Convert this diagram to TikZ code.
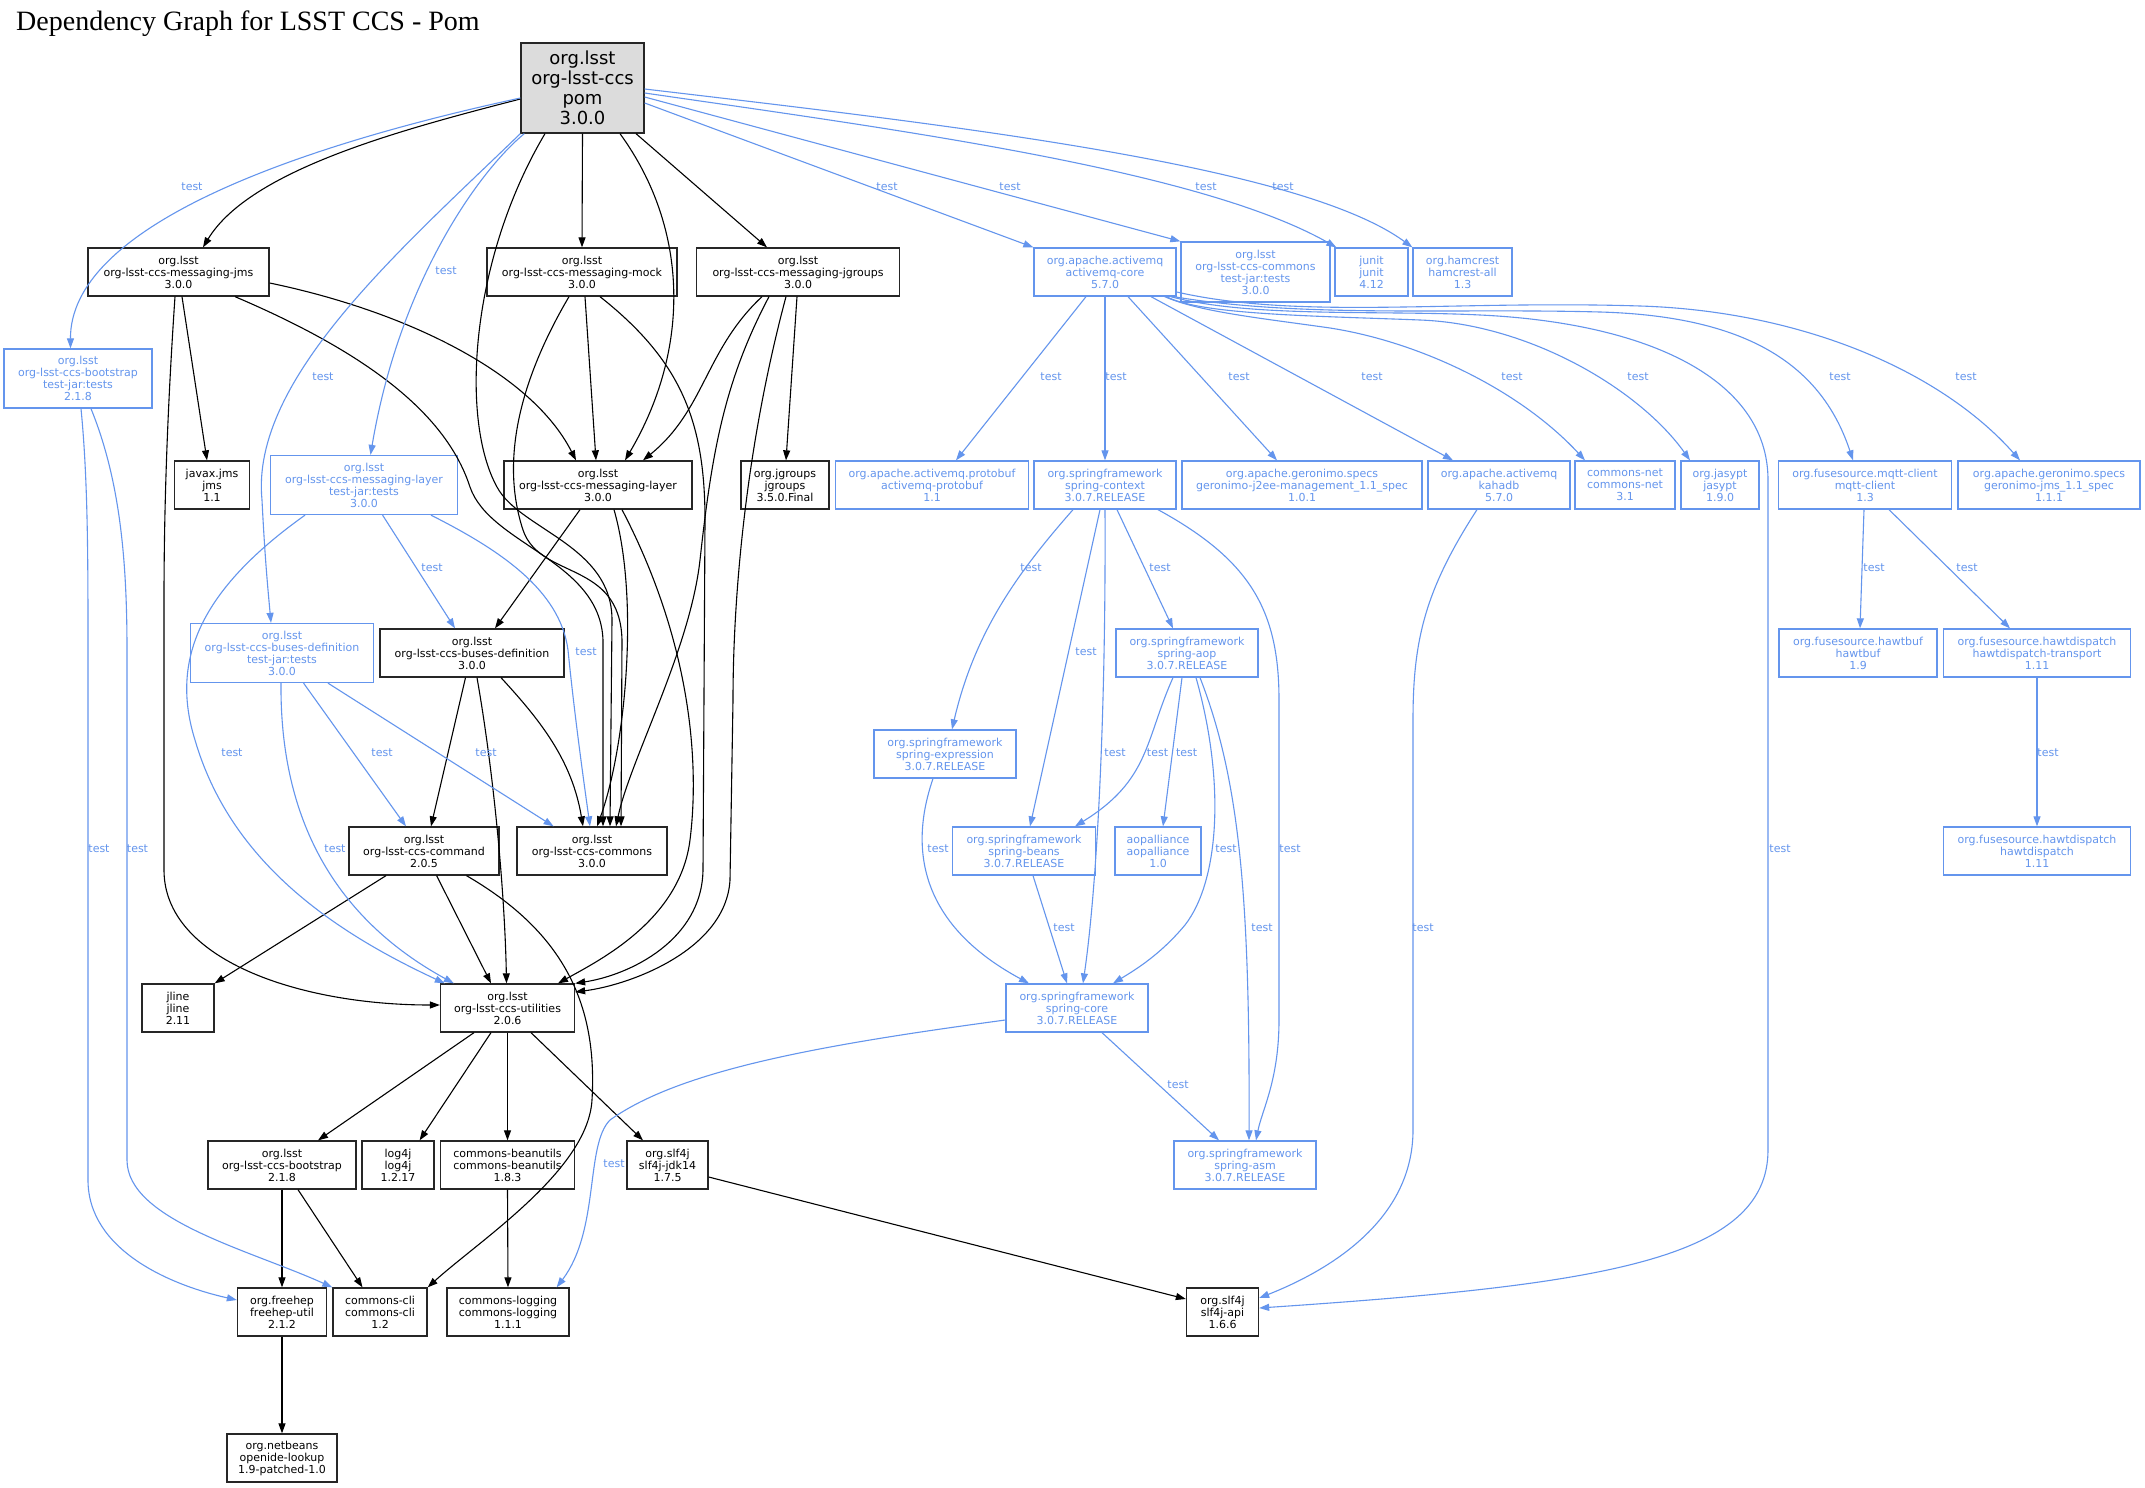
\documentclass[tikz,border=0pt]{standalone}
\usepackage{fontspec}
\setmainfont{DejaVu Sans}
\newfontfamily\titlefont{Liberation Serif}
\usetikzlibrary{arrows.meta,calc}
\definecolor{tblue}{HTML}{6495ED}
\definecolor{rootgray}{HTML}{DCDCDC}
\tikzset{
  box/.style={draw, line width=1.3pt, inner sep=0pt, align=center, font=\fontsize{11}{12}\selectfont},
  bk/.style={box, draw=black!85, text=black},
  bl/.style={box, draw=tblue, text=tblue},
  sz/.style 2 args={minimum width=#1, minimum height=#2},
  e/.style={line width=1.1pt, -{Triangle[length=10pt,width=7pt]}},
  eb/.style={e, color=tblue},
  lbl/.style={text=tblue, inner sep=0pt, font=\fontsize{11}{12}\selectfont}
}
\begin{document}
\begin{tikzpicture}[x=1pt,y=-1pt]
\fill[white] (0,0) rectangle (2145,1488);
\useasboundingbox (0,0) rectangle (2145,1488);
\node[anchor=base west, inner sep=0pt, font=\titlefont\fontsize{28}{30}\selectfont] (title) at (16,31) {Dependency Graph for LSST CCS - Pom};

% ---- nodes ----
\node[bk, fill=rootgray, sz={123}{90}, font=\fontsize{18}{20}\selectfont] (root) at (582.5,88) {org.lsst\\org-lsst-ccs\\pom\\3.0.0};
\node[bk, sz={181}{48}] (jms) at (178.5,272) {org.lsst\\org-lsst-ccs-messaging-jms\\3.0.0};
\node[bk, sz={190}{48}] (mock) at (582,272) {org.lsst\\org-lsst-ccs-messaging-mock\\3.0.0};
\node[bk, sz={203}{48}] (jgroups) at (798,272) {org.lsst\\org-lsst-ccs-messaging-jgroups\\3.0.0};
\node[bl, sz={142}{48}] (amq) at (1105,272) {org.apache.activemq\\activemq-core\\5.7.0};
\node[bl, sz={149}{60}] (ctest) at (1255.5,272) {org.lsst\\org-lsst-ccs-commons\\test-jar:tests\\3.0.0};
\node[bl, sz={73}{48}] (junit) at (1371.5,272) {junit\\junit\\4.12};
\node[bl, sz={99}{48}] (hamcrest) at (1462.5,272) {org.hamcrest\\hamcrest-all\\1.3};
\node[bl, sz={148}{59}] (bttest) at (78,378.5) {org.lsst\\org-lsst-ccs-bootstrap\\test-jar:tests\\2.1.8};
\node[bk, sz={75}{48}] (javaxjms) at (212,485) {javax.jms\\jms\\1.1};
\node[bl, sz={187}{59}] (mltest) at (364,485) {org.lsst\\org-lsst-ccs-messaging-layer\\test-jar:tests\\3.0.0};
\node[bk, sz={188}{48}] (ml) at (598,485) {org.lsst\\org-lsst-ccs-messaging-layer\\3.0.0};
\node[bk, sz={88}{48}] (jglib) at (785,485) {org.jgroups\\jgroups\\3.5.0.Final};
\node[bl, sz={193}{48}] (protobuf) at (932,485) {org.apache.activemq.protobuf\\activemq-protobuf\\1.1};
\node[bl, sz={142}{48}] (sctx) at (1105,485) {org.springframework\\spring-context\\3.0.7.RELEASE};
\node[bl, sz={240}{48}] (j2ee) at (1302,485) {org.apache.geronimo.specs\\geronimo-j2ee-management\_1.1\_spec\\1.0.1};
\node[bl, sz={142}{48}] (kahadb) at (1499,485) {org.apache.activemq\\kahadb\\5.7.0};
\node[bl, sz={100}{48}] (cnet) at (1625,485) {commons-net\\commons-net\\3.1};
\node[bl, sz={78}{48}] (jasypt) at (1720,485) {org.jasypt\\jasypt\\1.9.0};
\node[bl, sz={173}{48}] (mqtt) at (1865,485) {org.fusesource.mqtt-client\\mqtt-client\\1.3};
\node[bl, sz={182}{48}] (gjms) at (2049,485) {org.apache.geronimo.specs\\geronimo-jms\_1.1\_spec\\1.1.1};
\node[bl, sz={183}{59}] (bdtest) at (282,653) {org.lsst\\org-lsst-ccs-buses-definition\\test-jar:tests\\3.0.0};
\node[bk, sz={184}{48}] (bd) at (472,653) {org.lsst\\org-lsst-ccs-buses-definition\\3.0.0};
\node[bl, sz={142}{48}] (aop) at (1187,653) {org.springframework\\spring-aop\\3.0.7.RELEASE};
\node[bl, sz={158}{48}] (hawtbuf) at (1858,653) {org.fusesource.hawtbuf\\hawtbuf\\1.9};
\node[bl, sz={187}{48}] (transport) at (2037,653) {org.fusesource.hawtdispatch\\hawtdispatch-transport\\1.11};
\node[bl, sz={142}{48}] (sexpr) at (945,754) {org.springframework\\spring-expression\\3.0.7.RELEASE};
\node[bk, sz={150}{48}] (command) at (424,851) {org.lsst\\org-lsst-ccs-command\\2.0.5};
\node[bk, sz={150}{48}] (commons) at (592,851) {org.lsst\\org-lsst-ccs-commons\\3.0.0};
\node[bl, sz={143}{48}] (sbeans) at (1024,851) {org.springframework\\spring-beans\\3.0.7.RELEASE};
\node[bl, sz={86}{48}] (aopall) at (1158,851) {aopalliance\\aopalliance\\1.0};
\node[bl, sz={187}{48}] (hawtd) at (2037,851) {org.fusesource.hawtdispatch\\hawtdispatch\\1.11};
\node[bk, sz={72}{48}] (jline) at (178,1008) {jline\\jline\\2.11};
\node[bk, sz={134}{48}] (util) at (507.5,1008) {org.lsst\\org-lsst-ccs-utilities\\2.0.6};
\node[bl, sz={142}{48}] (score) at (1077,1008) {org.springframework\\spring-core\\3.0.7.RELEASE};
\node[bk, sz={148}{48}] (bootstrap) at (282,1165) {org.lsst\\org-lsst-ccs-bootstrap\\2.1.8};
\node[bk, sz={72}{48}] (log4j) at (398,1165) {log4j\\log4j\\1.2.17};
\node[bk, sz={134}{48}] (beanutils) at (507.5,1165) {commons-beanutils\\commons-beanutils\\1.8.3};
\node[bk, sz={81}{48}] (jdk14) at (667.5,1165) {org.slf4j\\slf4j-jdk14\\1.7.5};
\node[bl, sz={142}{48}] (sasm) at (1245,1165) {org.springframework\\spring-asm\\3.0.7.RELEASE};
\node[bk, sz={89}{48}] (freehep) at (282,1312) {org.freehep\\freehep-util\\2.1.2};
\node[bk, sz={94}{48}] (cli) at (380,1312) {commons-cli\\commons-cli\\1.2};
\node[bk, sz={122}{48}] (clog) at (508,1312) {commons-logging\\commons-logging\\1.1.1};
\node[bk, sz={72}{48}] (slfapi) at (1222.5,1312) {org.slf4j\\slf4j-api\\1.6.6};
\node[bk, sz={110}{48}] (openide) at (282,1458) {org.netbeans\\openide-lookup\\1.9-patched-1.0};

% ---- black edges ----
\draw[e] ($(root.west)+(0,11)$) .. controls (400,130) and (250,170) .. ($(jms.north)+(24.5,0)$);
\draw[e] (root.south) -- (mock.north);
\draw[e] ($(root.south)+(53.5,0)$) -- ($(jgroups.north)+(-31,0)$);
\draw[e] ($(root.south)+(37.5,0)$) .. controls (690,230) and (690,350) .. ($(ml.north)+(27,0)$);
\draw[e] ($(root.south)+(-37.5,0)$) .. controls (470,260) and (460,420) .. (497,487) .. controls (520,530) and (612,545) .. (612,620) -- ($(commons.north)+(18,0)$);
\draw[e] ($(jms.south)+(3.5,0)$) -- ($(javaxjms.north)+(-5,0)$);
\draw[e] ($(jms.south)+(-3.5,0)$) .. controls (168,400) and (164,500) .. (164,600) -- (164,870) .. controls (164,960) and (300,1005) .. ($(util.west)+(0,-3)$);
\draw[e] ($(jms.south)+(56.5,0)$) .. controls (360,350) and (445,410) .. (470,487) .. controls (490,545) and (600,560) .. (603,640) -- ($(commons.north)+(11,0)$);
\draw[e] ($(jms.east)+(0,11)$) .. controls (400,310) and (530,370) .. ($(ml.north)+(-22,0)$);
\draw[e] ($(mock.south)+(3,0)$) -- ($(ml.north)+(-2,0)$);
\draw[e] ($(mock.south)+(-13,0)$) .. controls (520,380) and (500,460) .. (523,530) .. controls (540,580) and (620,560) .. (622,640) -- ($(commons.north)+(29,0)$);
\draw[e] ($(mock.south)+(18,0)$) .. controls (680,360) and (705,420) .. (705,520) -- (703,870) .. controls (702,940) and (630,975) .. (util.north east);
\draw[e] ($(jgroups.south)+(-1,0)$) -- ($(jglib.north)+(1,0)$);
\draw[e] ($(jgroups.south)+(-36,0)$) .. controls (705,350) and (705,410) .. ($(ml.north)+(45,0)$);
\draw[e] ($(jgroups.south)+(-29,0)$) .. controls (725,380) and (712,450) .. (700,560) .. controls (690,650) and (630,760) .. ($(commons.north)+(24,0)$);
\draw[e] ($(jgroups.south)+(-12,0)$) .. controls (745,450) and (733,600) .. (733,700) -- (730,880) .. controls (726,950) and (630,985) .. ($(util.east)+(0,-16)$);
\draw[e] ($(ml.south)+(-18,0)$) -- ($(bd.north)+(23,0)$);
\draw[e] ($(ml.south)+(16,0)$) .. controls (640,600) and (625,750) .. ($(commons.north)+(5,0)$);
\draw[e] ($(ml.south)+(24,0)$) .. controls (690,640) and (700,760) .. (690,840) .. controls (680,920) and (600,960) .. ($(util.north)+(50.5,0)$);
\draw[e] ($(bd.south)+(-6.5,0)$) -- ($(command.north)+(7,0)$);
\draw[e] ($(bd.south)+(5,0)$) .. controls (495,780) and (505,900) .. ($(util.north)+(-1,0)$);
\draw[e] ($(bd.south)+(29,0)$) .. controls (540,720) and (572,760) .. ($(commons.north)+(-9,0)$);
\draw[e] ($(command.south)+(-38,0)$) -- (jline.north east);
\draw[e] ($(command.south)+(12.6,0)$) -- ($(util.north)+(-16.5,0)$);
\draw[e] ($(command.south)+(42.5,0)$) .. controls (560,930) and (598,1000) .. (592,1100) .. controls (588,1170) and (480,1240) .. (cli.north east);
\draw[e] ($(util.south)+(-33.5,0)$) -- ($(bootstrap.north)+(36,0)$);
\draw[e] ($(util.south)+(-16.5,0)$) -- ($(log4j.north)+(21.6,0)$);
\draw[e] (util.south) -- (beanutils.north);
\draw[e] ($(util.south)+(23.5,0)$) -- ($(jdk14.north)+(-24.5,0)$);
\draw[e] (bootstrap.south) -- (freehep.north);
\draw[e] ($(bootstrap.south)+(16,0)$) -- ($(cli.north)+(-17.5,0)$);
\draw[e] (beanutils.south) -- (clog.north);
\draw[e] (freehep.south) -- (openide.north);
\draw[e] ($(jdk14.east)+(0,12)$) -- ($(slfapi.west)+(0,-13)$);

% ---- blue (test) edges ----
\draw[eb] ($(root.west)+(0,10)$) .. controls (280,150) and (70,230) .. ($(bttest.north)+(-7.5,0)$);
\draw[eb] (root.south west) .. controls (400,250) and (250,380) .. (262,500) .. controls (265,560) and (268,590) .. ($(bdtest.north)+(-11,0)$);
\draw[eb] ($(root.south west)+(4,0)$) .. controls (480,170) and (400,280) .. ($(mltest.north)+(6.5,0)$);
\draw[eb] ($(root.east)+(0,15)$) -- (amq.north west);
\draw[eb] ($(root.east)+(0,9)$) -- (ctest.north west);
\draw[eb] ($(root.east)+(0,5)$) .. controls (900,130) and (1200,170) .. ($(junit.north west)+(2,0)$);
\draw[eb] ($(root.east)+(0,1)$) .. controls (950,125) and (1300,165) .. (hamcrest.north west);
\draw[eb] ($(amq.south)+(-19,0)$) -- ($(protobuf.north)+(24,0)$);
\draw[eb] (amq.south) -- (sctx.north);
\draw[eb] ($(amq.south)+(23,0)$) -- ($(j2ee.north)+(-25,0)$);
\draw[eb] ($(amq.south)+(46,0)$) -- ($(kahadb.north)+(-46,0)$);
\draw[eb] ($(amq.south east)+(-12,0)$) .. controls (1200,312) and (1260,318) .. (1330,328) .. controls (1420,342) and (1520,390) .. ($(cnet.north)+(-40,0)$);
\draw[eb] ($(amq.south east)+(-10,0)$) .. controls (1200,315) and (1320,316) .. (1420,320) .. controls (1530,324) and (1640,390) .. ($(jasypt.north)+(-30,0)$);
\draw[eb] ($(amq.south east)+(-6,0)$) .. controls (1250,318) and (1380,310) .. (1480,315) .. controls (1650,323) and (1768,380) .. (1768,480) -- (1768,1150) .. controls (1768,1260) and (1600,1285) .. ($(slfapi.east)+(0,-4)$);
\draw[eb] ($(amq.south east)+(-3,0)$) .. controls (1300,318) and (1450,308) .. (1600,312) .. controls (1740,316) and (1820,360) .. ($(mqtt.north)+(-12,0)$);
\draw[eb] ($(amq.east)+(0,20)$) .. controls (1300,320) and (1450,300) .. (1640,306) .. controls (1800,311) and (1940,370) .. ($(gjms.north)+(-29,0)$);
\draw[eb] ($(kahadb.south)+(-22,0)$) .. controls (1425,590) and (1413,640) .. (1413,720) -- (1413,1130) .. controls (1413,1220) and (1330,1270) .. ($(slfapi.east)+(0,-14)$);
\draw[eb] ($(sctx.south)+(-32,0)$) .. controls (1020,570) and (975,630) .. ($(sexpr.north)+(7,0)$);
\draw[eb] ($(sctx.south)+(-5,0)$) -- ($(sbeans.north)+(6,0)$);
\draw[eb] (sctx.south) .. controls (1106,700) and (1098,880) .. ($(score.north)+(6,0)$);
\draw[eb] ($(sctx.south)+(12,0)$) -- ($(aop.north)+(-14,0)$);
\draw[eb] ($(sctx.south)+(53,0)$) .. controls (1250,560) and (1279,610) .. (1279,700) -- (1279,1020) .. controls (1279,1080) and (1262,1110) .. ($(sasm.north)+(11,0)$);
\draw[eb] ($(aop.south)+(-14,0)$) .. controls (1145,740) and (1150,780) .. ($(sbeans.north)+(51,0)$);
\draw[eb] ($(aop.south)+(-5,0)$) -- ($(aopall.north)+(5,0)$);
\draw[eb] ($(aop.south)+(9,0)$) .. controls (1225,780) and (1220,880) .. (1185,925) .. controls (1160,955) and (1135,970) .. ($(score.north)+(36,0)$);
\draw[eb] ($(aop.south)+(13,0)$) .. controls (1240,780) and (1250,900) .. ($(sasm.north)+(4,0)$);
\draw[eb] ($(sexpr.south)+(-12,0)$) .. controls (905,860) and (930,930) .. ($(score.north)+(-48,0)$);
\draw[eb] ($(sbeans.south)+(9,0)$) -- ($(score.north)+(-10,0)$);
\draw[eb] ($(score.south)+(25,0)$) -- ($(sasm.north)+(-26,0)$);
\draw[eb] ($(score.west)+(0,12)$) .. controls (820,1045) and (680,1070) .. (610,1120) .. controls (585,1145) and (600,1230) .. ($(clog.north east)+(-13,0)$);
\draw[eb] ($(mqtt.south)+(-1,0)$) -- ($(hawtbuf.north)+(2,0)$);
\draw[eb] ($(mqtt.south)+(24,0)$) -- ($(transport.north)+(-27,0)$);
\draw[eb] (transport.south) -- (hawtd.north);
\draw[eb] ($(bttest.south)+(3,0)$) .. controls (88,480) and (88,560) .. (88,650) -- (88,1180) .. controls (88,1250) and (170,1285) .. ($(freehep.west)+(0,-12)$);
\draw[eb] ($(bttest.south)+(13,0)$) .. controls (120,480) and (127,560) .. (127,650) -- (127,1160) .. controls (127,1220) and (250,1250) .. (cli.north west);
\draw[eb] ($(mltest.south)+(18.6,0)$) -- ($(bd.north)+(-17,0)$);
\draw[eb] ($(mltest.south)+(67,0)$) .. controls (500,550) and (560,590) .. (568,650) .. controls (575,720) and (585,790) .. ($(commons.north)+(-2,0)$);
\draw[eb] ($(mltest.south)+(-59,0)$) .. controls (200,590) and (170,660) .. (195,740) .. controls (230,860) and (330,930) .. ($(util.north west)+(5,0)$);
\draw[eb] ($(bdtest.south)+(21.6,0)$) -- ($(command.north)+(-18,0)$);
\draw[eb] ($(bdtest.south)+(46,0)$) -- ($(commons.north)+(-38.4,0)$);
\draw[eb] ($(bdtest.south)+(-1,0)$) .. controls (280,800) and (320,910) .. ($(util.north west)+(14,0)$);

% ---- labels ----
\node[lbl] (l1) at (192,187) {test};
\node[lbl] (l2) at (323,377) {test};
\node[lbl] (l3) at (446,271) {test};
\node[lbl] (l4) at (887,187) {test};
\node[lbl] (l5) at (1010,187) {test};
\node[lbl] (l6) at (1206,187) {test};
\node[lbl] (l7) at (1283,187) {test};
\node[lbl] (l8) at (1051,377) {test};
\node[lbl] (l9) at (1116,377) {test};
\node[lbl] (l10) at (1239,377) {test};
\node[lbl] (l11) at (1372,377) {test};
\node[lbl] (l12) at (1512,377) {test};
\node[lbl] (l13) at (1638,377) {test};
\node[lbl] (l14) at (1840,377) {test};
\node[lbl] (l15) at (1966,377) {test};
\node[lbl] (l16) at (1031,568) {test};
\node[lbl] (l17) at (1160,568) {test};
\node[lbl] (l18) at (1086,652) {test};
\node[lbl] (l19) at (1115,753) {test};
\node[lbl] (l20) at (1157.5,753) {test};
\node[lbl] (l21) at (1186.6,753) {test};
\node[lbl] (l22) at (1226,849) {test};
\node[lbl] (l23) at (1290,849) {test};
\node[lbl] (l24) at (938,849) {test};
\node[lbl] (l25) at (1064,928) {test};
\node[lbl] (l26) at (1262,928) {test};
\node[lbl] (l27) at (1178,1085) {test};
\node[lbl] (l28) at (614,1164) {test};
\node[lbl] (l29) at (1423,928) {test};
\node[lbl] (l30) at (1780,849) {test};
\node[lbl] (l31) at (1874,568) {test};
\node[lbl] (l32) at (1967,568) {test};
\node[lbl] (l33) at (2048,753) {test};
\node[lbl] (l34) at (432,568) {test};
\node[lbl] (l35) at (586,652) {test};
\node[lbl] (l36) at (232,753) {test};
\node[lbl] (l37) at (382,753) {test};
\node[lbl] (l38) at (486,753) {test};
\node[lbl] (l39) at (335,849) {test};
\node[lbl] (l40) at (99,849) {test};
\node[lbl] (l41) at (137.5,849) {test};
\end{tikzpicture}
\end{document}
